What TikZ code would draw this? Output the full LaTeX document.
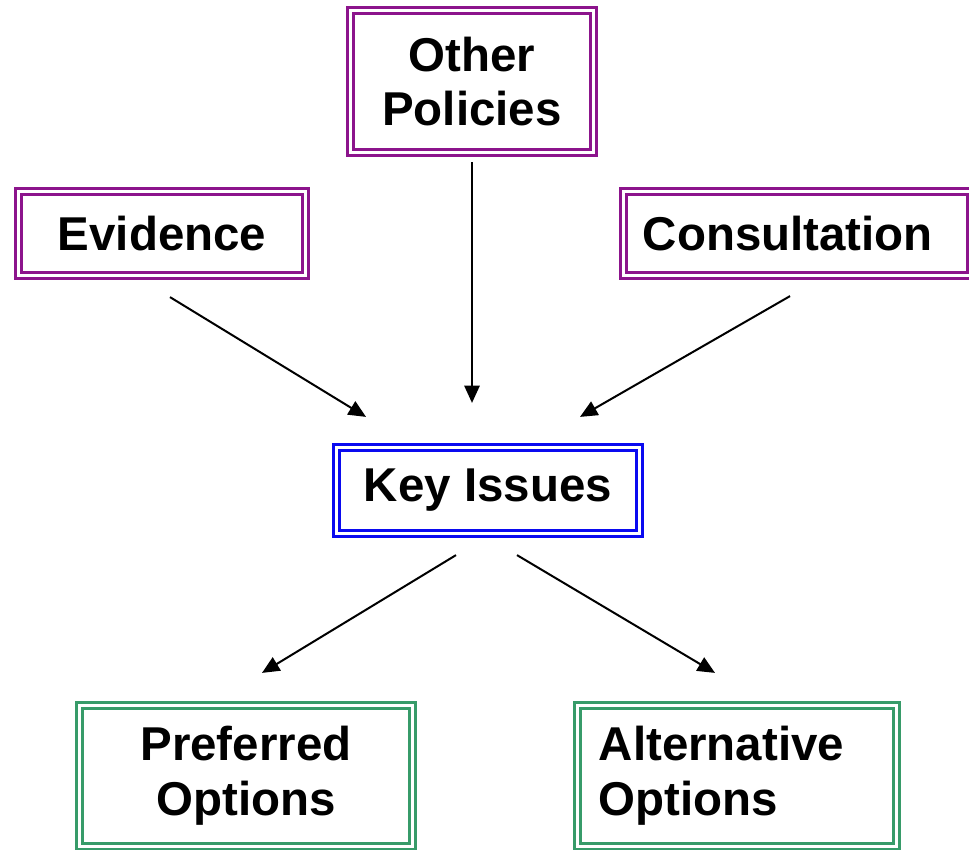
\documentclass[tikz,border=0pt]{standalone}
\usepackage{fontspec}
\setmainfont{Liberation Sans}
\usetikzlibrary{arrows.meta,calc}
\definecolor{policypurple}{RGB}{140,20,140}
\definecolor{issueblue}{RGB}{10,10,240}
\definecolor{optiongreen}{RGB}{55,155,105}
\tikzset{
  box/.style={draw=#1,double=white,line width=2.2pt,double distance=1.7pt,
    outer sep=0pt,inner sep=0pt,align=center,
    font=\bfseries\fontsize{35.6}{41}\selectfont},
  flow/.style={-{Triangle[length=13pt,width=11.5pt]},line width=1.5pt}
}
\begin{document}
\begin{tikzpicture}[x=0.75pt,y=-0.75pt]
\useasboundingbox (0,0) rectangle (969,849);
\node[box=policypurple,minimum width=182.25pt,minimum height=106.5pt] (other) at (472,81.5) {Other\\Policies};
\node[box=policypurple,minimum width=215.25pt,minimum height=63pt] (evidence) at (162,233.5) {Evidence};
\node[box=policypurple,align=left,text width=231.25pt,inner xsep=14.5pt,minimum height=63pt] (consult) at (797,233.5) {Consultation};
\node[box=issueblue,minimum width=227.25pt,minimum height=64.5pt] (key) at (488,490.5) {Key Issues};
\node[box=optiongreen,minimum width=249.75pt,minimum height=105.75pt] (preferred) at (246,776) {Preferred\\Options};
\node[box=optiongreen,align=left,text width=207.25pt,inner xsep=16pt,minimum height=105.75pt] (alternative) at (737,776) {Alternative\\Options};
\draw[flow] ($(evidence.south)+(8,21.6)$) -- ($(key.north)+(-122,-30.6)$);
\draw[flow] ($(other.south)+(0,9.6)$) -- ($(key.north)+(-16,-44.6)$);
\draw[flow] ($(consult.south)+(-7,20.6)$) -- ($(key.north)+(92,-30.6)$);
\draw[flow] ($(key.south)+(-32,21.6)$) -- ($(preferred.north)+(16,-32.6)$);
\draw[flow] ($(key.south)+(29,21.6)$) -- ($(alternative.north)+(-22,-32.6)$);
\end{tikzpicture}
\end{document}
